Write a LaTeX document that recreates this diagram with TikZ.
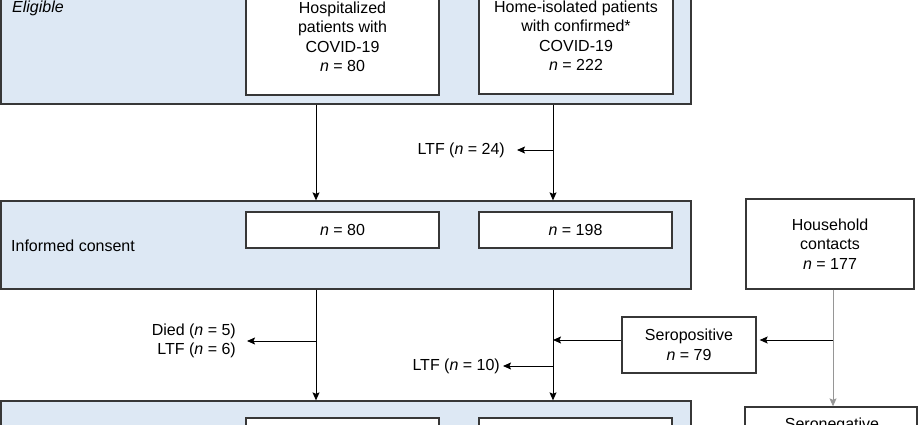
\documentclass[tikz,border=0pt]{standalone}
\usepackage{fontspec}
\setmainfont{Liberation Sans}
\usetikzlibrary{arrows.meta}
\definecolor{bandblue}{RGB}{221,232,244}
\definecolor{edgegray}{RGB}{55,55,55}
\definecolor{linegray}{RGB}{150,150,150}
\begin{document}
\begin{tikzpicture}[x=1pt,y=-1pt,
  font=\fontsize{16}{19.5}\selectfont,
  band/.style={draw=edgegray, line width=1.3pt, fill=bandblue, inner sep=0pt},
  box/.style={draw=edgegray, line width=1.3pt, fill=white, inner sep=0pt, align=center},
  txt/.style={inner sep=0pt, align=center},
  conn/.style={line width=1pt, black},
  arr/.style={conn, -{Stealth[length=8pt,width=7pt,inset=1.5pt]}},
  grayarr/.style={line width=1pt, linegray, -{Stealth[length=8pt,width=7pt,inset=1.5pt]}},
  lbl/.style={inner ysep=0pt, align=right, anchor=east}]
\useasboundingbox (0,0) rectangle (920,425);
\clip (0,0) rectangle (920,425);

% bands
\node[band, minimum width=690pt, minimum height=134pt] (band1) at (346,37) {};
\node[band, minimum width=690pt, minimum height=88pt] (band2) at (346,245) {};
\node[band, minimum width=690pt, minimum height=59pt] (band3) at (346,430.5) {};

\node[txt, anchor=west, font=\fontsize{16}{19.5}\selectfont\itshape] (elig) at (12,8) {Eligible};
\node[txt, anchor=west] (inf) at (11,246) {Informed consent};

% boxes
\node[box, minimum width=193pt, minimum height=116pt] (hosp) at (342.5,37)
  {Hospitalized\\patients with\\COVID-19\\\textit{n} = 80};
\node[box, minimum width=194pt, minimum height=117pt] (home) at (576,35.5)
  {Home-isolated patients\\with confirmed*\\COVID-19\\\textit{n} = 222};
\node[box, minimum width=193pt, minimum height=36pt] (c80) at (342.5,230) {\textit{n} = 80};
\node[box, minimum width=193pt, minimum height=36pt] (c198) at (575.5,230) {\textit{n} = 198};
\node[box, minimum width=168pt, minimum height=90pt] (house) at (830,244)
  {Household\\contacts\\\textit{n} = 177};
\node[box, minimum width=134pt, minimum height=56pt] (sero) at (689,345)
  {Seropositive\\\textit{n} = 79};
\node[box, minimum width=193pt, minimum height=52pt] (f1) at (342.5,444) {};
\node[box, minimum width=193pt, minimum height=52pt] (f2) at (575.5,444) {};
\node[box, minimum width=172pt, minimum height=63pt] (neg) at (831,438.5) {};
\node[txt, anchor=base] (negt) at (832,429.5) {Seronegative};

% coordinates
\coordinate (xa) at (316,0);
\coordinate (xb) at (553,0);
\coordinate (xc) at (833,0);
\coordinate (j1) at (553,150);
\coordinate (j2) at (316,341);
\coordinate (j3) at (553,340);
\coordinate (j4) at (553,366);
\coordinate (j5) at (833,340);

% labels
\node[lbl, inner xsep=12pt] (ltf24) at (517,150) {LTF (\textit{n} = 24)};
\node[lbl, inner xsep=11pt] (died) at (247,341) {Died (\textit{n} = 5)\\LTF (\textit{n} = 6)};
\node[lbl, inner xsep=3pt] (ltf10) at (503,366) {LTF (\textit{n} = 10)};

% connectors
\draw[arr] (xa |- band1.south) -- (xa |- band2.north);
\draw[arr] (xb |- band1.south) -- (xb |- band2.north);
\draw[arr] (j1) -- (ltf24.east);
\draw[arr] (xa |- band2.south) -- (xa |- band3.north);
\draw[arr] (j2) -- (died.east);
\draw[arr] (xb |- band2.south) -- (xb |- band3.north);
\draw[arr] (sero.west |- j3) -- (j3);
\draw[arr] (j4) -- (ltf10.east);
\draw[grayarr] (xc |- house.south) -- (xc |- neg.north);
\draw[arr] (j5) -- ([xshift=3pt]sero.east |- j5);
\end{tikzpicture}
\end{document}
